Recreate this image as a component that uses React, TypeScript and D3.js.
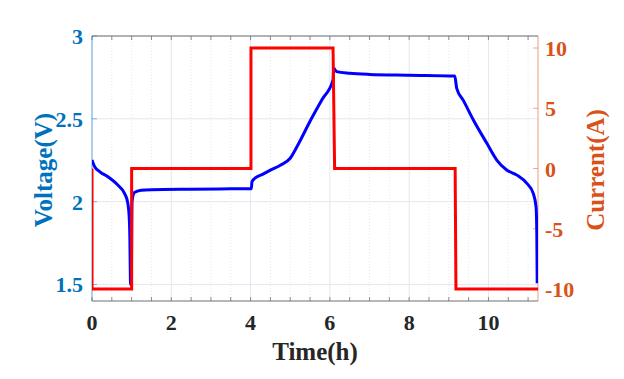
import React from "react";
import * as d3 from "d3";

const voltT = [0, 0.07, 0.2, 0.4, 0.65, 0.82, 0.9, 0.94, 0.955, 0.965, 0.972, 0.99, 1.01, 1.07, 1.24, 1.5, 2.5, 3.5, 4.02, 4.035, 4.11, 4.3, 4.5, 4.75, 5.0, 5.2, 5.5, 5.8, 6.08, 6.095, 6.17, 6.5, 7.0, 8.0, 9.15, 9.2, 9.37, 9.62, 9.96, 10.21, 10.46, 10.72, 10.97, 11.13, 11.2, 11.22, 11.23];
const voltV = [2.252, 2.21, 2.18, 2.15, 2.1, 2.05, 1.995, 1.9, 1.78, 1.6, 1.5, 1.5, 2.0, 2.055, 2.068, 2.072, 2.075, 2.077, 2.078, 2.12, 2.141, 2.165, 2.19, 2.22, 2.262, 2.345, 2.485, 2.615, 2.735, 2.805, 2.785, 2.775, 2.768, 2.763, 2.758, 2.684, 2.61, 2.493, 2.352, 2.251, 2.191, 2.16, 2.11, 2.05, 1.97, 1.81, 1.507];

const currT = [0, 0, 1, 1, 4.01, 4.01, 6.08, 6.12, 9.16, 9.18, 11.25];
const currI = [0, -10, -10, 0, 0, 10, 10, 0, 0, -10, -10];

const xTicks = [0, 2, 4, 6, 8, 10];
const xMinorTicks = d3.range(0, 11.25, 0.5);
const leftTicks = [1.5, 2, 2.5, 3];
const leftTickLabels = ["1.5", "2", "2.5", "3"];
const rightTicks = [-10, -5, 0, 5, 10];

const W = 624, H = 379;
const L = 92, R = 538, T = 36, B = 301;
const BLUE_AX = "#0072BD";
const ORANGE_AX = "#D95319";
const FONT = "'Liberation Serif', 'Times New Roman', serif";

export default function App() {
  const x = d3.scaleLinear().domain([0, 11.25]).range([L, R]);
  const yL = d3.scaleLinear().domain([1.4, 3]).range([B, T]);
  const yR = d3.scaleLinear().domain([-11, 11]).range([B, T]);

  const voltData = voltT.map((t, i) => [t, voltV[i]] as [number, number]);
  const currData = currT.map((t, i) => [t, currI[i]] as [number, number]);

  const vLine = d3.line<[number, number]>().x(d => x(d[0])).y(d => yL(d[1])).curve(d3.curveMonotoneX);
  const cLine = d3.line<[number, number]>().x(d => x(d[0])).y(d => yR(d[1]));

  return (
    <svg width={W} height={H} style={{ position: "absolute", left: 0, top: 0, background: "#fff" }}>
      <defs>
        <clipPath id="plot">
          <rect x={L} y={T - 2} width={R - L} height={B - T + 4} />
        </clipPath>
      </defs>
      {xMinorTicks.filter(t => t % 2 !== 0).map(t => (
        <line key={"mg" + t} x1={x(t)} x2={x(t)} y1={T} y2={B} stroke="#dde3ea" strokeWidth={0.8} strokeDasharray="1,2" />
      ))}
      {xTicks.map(t => (
        <line key={"g" + t} x1={x(t)} x2={x(t)} y1={T} y2={B} stroke="#e2e8ef" strokeWidth={1} />
      ))}
      {leftTicks.map(t => (
        <line key={"h" + t} x1={L} x2={R} y1={yL(t)} y2={yL(t)} stroke="#e2e8ef" strokeWidth={1} />
      ))}
      {xMinorTicks.map(t => (
        <g key={"t" + t}>
          <line x1={x(t)} x2={x(t)} y1={B} y2={B - 4} stroke="#707070" strokeWidth={0.8} />
          <line x1={x(t)} x2={x(t)} y1={T} y2={T + 4} stroke="#707070" strokeWidth={0.8} />
        </g>
      ))}
      {leftTicks.map(t => (
        <line key={"lt" + t} x1={L} x2={L + 5} y1={yL(t)} y2={yL(t)} stroke={BLUE_AX} strokeWidth={0.8} opacity={0.6} />
      ))}
      {rightTicks.map(t => (
        <line key={"rt" + t} x1={R} x2={R - 5} y1={yR(t)} y2={yR(t)} stroke={ORANGE_AX} strokeWidth={0.8} opacity={0.6} />
      ))}
      <line x1={L} x2={R} y1={B} y2={B} stroke="#707070" strokeWidth={1.2} />
      <line x1={L} x2={R} y1={T} y2={T} stroke="#707070" strokeWidth={1.2} />
      <line x1={L} x2={L} y1={T} y2={B} stroke={BLUE_AX} strokeWidth={1} opacity={0.55} />
      <line x1={R} x2={R} y1={T} y2={B} stroke={ORANGE_AX} strokeWidth={1} opacity={0.55} />

      <g clipPath="url(#plot)">
        <path d={vLine(voltData) || ""} fill="none" stroke="#0000ff" strokeWidth={3} />
        <path d={cLine(currData) || ""} fill="none" stroke="#ff0000" strokeWidth={3} strokeLinejoin="miter" />
      </g>

      {xTicks.map(t => (
        <text key={"xl" + t} x={x(t)} y={330} textAnchor="middle" fontFamily={FONT} fontWeight="bold" fontSize={22} fill="#262626">{t}</text>
      ))}
      {leftTicks.map((t, i) => (
        <text key={"ll" + t} x={83} y={yL(t) + 8} textAnchor="end" fontFamily={FONT} fontWeight="bold" fontSize={22} fill={BLUE_AX}>{leftTickLabels[i]}</text>
      ))}
      {rightTicks.map(t => (
        <text key={"rl" + t} x={545} y={yR(t) + 8} textAnchor="start" fontFamily={FONT} fontWeight="bold" fontSize={22} fill={ORANGE_AX}>{t < 0 ? "-" + Math.abs(t) : t}</text>
      ))}
      <text x={315} y={360} textAnchor="middle" fontFamily={FONT} fontWeight="bold" fontSize={25} fill="#262626">Time(h)</text>
      <text transform={`translate(52,170) rotate(-90)`} textAnchor="middle" fontFamily={FONT} fontWeight="bold" fontSize={25} fill={BLUE_AX}>Voltage(V)</text>
      <text transform={`translate(604,170) rotate(-90)`} textAnchor="middle" fontFamily={FONT} fontWeight="bold" fontSize={25} fill={ORANGE_AX}>Current(A)</text>
    </svg>
  );
}
